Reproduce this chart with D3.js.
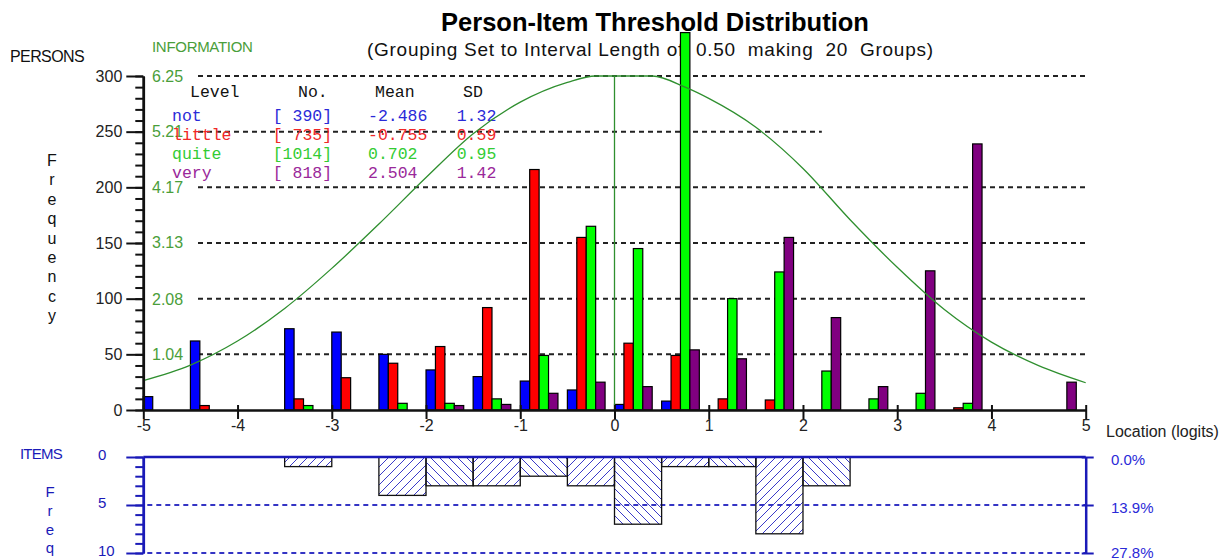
<!DOCTYPE html>
<html>
<head>
<meta charset="utf-8">
<script src="https://cdn.jsdelivr.net/npm/d3@7"></script>
<style>
  body { margin: 0; background: #fff; }
  svg { display: block; font-family: "Liberation Sans", Arial, sans-serif; }
</style>
</head>
<body>
<script>
// ---- Person distribution: 20 groups of 0.5 logits, one bar per response level ----
const groupStarts = [-5, -4.5, -4, -3.5, -3, -2.5, -2, -1.5, -1, -0.5, 0, 0.5, 1, 1.5, 2, 2.5, 3, 3.5, 4, 4.5];
const notCounts    = [12, 62, 0, 73, 70, 50, 36, 30, 26, 18, 5, 8, 0, 0, 0, 0, 0, 0, 0, 0];
const littleCounts = [0, 4, 0, 10, 29, 42, 57, 92, 216, 155, 60, 49, 10, 9, 0, 0, 0, 2, 0, 0];
const quiteCounts  = [0, 0, 0, 4, 0, 6, 6, 10, 49, 165, 145, 339, 100, 124, 35, 10, 15, 6, 0, 0];
const veryCounts   = [0, 0, 0, 0, 0, 0, 4, 5, 15, 25, 21, 54, 46, 155, 83, 21, 125, 239, 0, 25];

// ---- Legend table ----
const levels      = ["not", "little", "quite", "very"];
const levelCounts = [390, 735, 1014, 818];
const levelMeans  = [-2.486, -0.755, 0.702, 2.504];
const levelSDs    = [1.32, 0.59, 0.95, 1.42];
const legendHeader = ["Level", "No.", "Mean", "SD"];

// ---- Test information function ----
const infoLocations = [-5, -4.5, -4, -3.5, -3, -2.5, -2, -1.5, -1, -0.5, -0.2, 0.4, 0.75, 1, 1.5, 2, 2.5, 3, 3.5, 4, 4.5, 5];
const infoValues    = [0.55, 0.84, 1.29, 1.90, 2.65, 3.48, 4.35, 5.17, 5.76, 6.13, 6.25, 6.25, 6.04, 5.83, 5.29, 4.52, 3.56, 2.67, 1.88, 1.27, 0.83, 0.51];
const infoPeakLocation = 0;
const infoTickLabels = [1.04, 2.08, 3.13, 4.17, 5.21, 6.25];

// ---- Axis ticks ----
const logitTicks = [-5, -4, -3, -2, -1, 0, 1, 2, 3, 4, 5];
const freqMajorTicks = [0, 50, 100, 150, 200, 250, 300];
const freqMinorTicks = d3.range(0, 301, 10);

// ---- Item threshold distribution ----
const itemBinStarts = [-3.5, -2.5, -2, -1.5, -1, -0.5, 0, 0.5, 1, 1.5, 2];
const itemCounts    = [1, 4, 3, 3, 2, 3, 7, 1, 1, 8, 3];
const itemMajorTicks = [0, 5, 10];
const itemMinorTicks = d3.range(0, 11, 1);

// ---- Styling ----
const levelFill = ["#0000ff", "#ff0000", "#00ff00", "#800080"];
const levelText = ["#2a2ad8", "#f02828", "#33cc33", "#9a289a"];
const infoColor = "#2f8f2f";
const infoLabelColor = "#4a9e3a";
const itemBlue = "#1a1ab8";

const W = 1231, H = 560;
const svg = d3.select("body").append("svg").attr("width", W).attr("height", H);

const x = d3.scaleLinear().domain([-5, 5]).range([143.3, 1085.7]);
const y = d3.scaleLinear().domain([0, 300]).range([410, 76]);
const yInfo = d3.scaleLinear().domain([0, 6.25]).range([410, 76]);
const yItem = d3.scaleLinear().domain([0, 10]).range([457, 553]);

// ---- Titles ----
svg.append("text").attr("x", 655).attr("y", 31).attr("text-anchor", "middle")
  .style("font-size", "25.5px").style("font-weight", "bold").attr("fill", "#000")
  .text("Person-Item Threshold Distribution");
svg.append("text").attr("x", 367).attr("y", 56)
  .style("font-size", "19px").style("white-space", "pre").attr("fill", "#111")
  .attr("textLength", 566).attr("lengthAdjust", "spacing")
  .text("(Grouping Set to Interval Length of  0.50  making  20  Groups)");

svg.append("text").attr("x", 10).attr("y", 62).style("font-size", "16px")
  .style("letter-spacing", "-0.6px").attr("fill", "#111").text("PERSONS");
svg.append("text").attr("x", 152).attr("y", 52).style("font-size", "15px")
  .style("letter-spacing", "-0.3px").attr("fill", infoLabelColor).text("INFORMATION");

"Frequency".split("").forEach((ch, i) => {
  svg.append("text").attr("x", 52).attr("y", 166 + i * 19.4).attr("text-anchor", "middle")
    .style("font-size", "16px").attr("fill", "#111").text(ch);
});

// ---- Dashed grid (frequency) ----
const grid = svg.append("g");
freqMajorTicks.filter(d => d > 0).forEach(d => {
  grid.append("line")
    .attr("x1", 198).attr("x2", d === 250 ? x(2.2) : x(5))
    .attr("y1", y(d)).attr("y2", y(d))
    .attr("stroke", "#222").attr("stroke-width", 2).attr("stroke-dasharray", "5,4");
});

// Information scale labels
svg.append("g").selectAll("text").data(infoTickLabels).join("text")
  .attr("x", 152).attr("y", d => yInfo(d)).attr("dy", "0.36em")
  .style("font-size", "16px").attr("fill", infoLabelColor)
  .text(d => d.toFixed(2));

// ---- Legend table ----
const mono = "\"Liberation Mono\", \"Courier New\", monospace";
const legend = svg.append("g").style("font-family", mono).style("font-size", "16.5px").style("white-space", "pre");
const headerX = [190, 298, 375, 463];
legendHeader.forEach((h, i) => {
  legend.append("text").attr("x", headerX[i]).attr("y", 97).attr("fill", "#111").text(h);
});
levels.forEach((lv, i) => {
  const yy = 120.5 + i * 19.2;
  const row = legend.append("g").attr("fill", levelText[i]);
  row.append("text").attr("x", 172).attr("y", yy).text(lv);
  row.append("text").attr("x", 272.7).attr("y", yy).text("[" + String(levelCounts[i]).padStart(4, " ") + "]");
  row.append("text").attr("x", 368).attr("y", yy).text(levelMeans[i].toFixed(3).padStart(6, " "));
  row.append("text").attr("x", 456.7).attr("y", yy).text(levelSDs[i].toFixed(2));
});

// ---- Bars ----
const allSeries = [notCounts, littleCounts, quiteCounts, veryCounts];
const barW = 0.1;
const bars = svg.append("g");
allSeries.forEach((vals, si) => {
  const data = groupStarts.map((g, j) => ({ g, v: vals[j] })).filter(d => d.v > 0);
  bars.selectAll(null).data(data).join("rect")
    .attr("x", d => x(d.g + si * barW))
    .attr("width", x(barW) - x(0))
    .attr("y", d => y(d.v))
    .attr("height", d => y(0) - y(d.v))
    .attr("fill", levelFill[si])
    .attr("stroke", "#000").attr("stroke-width", 1.2);
});

// ---- Information curve ----
const infoLine = d3.line()
  .x((d, i) => x(infoLocations[i]))
  .y(d => yInfo(d))
  .curve(d3.curveMonotoneX);
svg.append("path").datum(infoValues).attr("d", infoLine)
  .attr("fill", "none").attr("stroke", infoColor).attr("stroke-width", 1.3);
svg.append("line")
  .attr("x1", x(infoPeakLocation)).attr("x2", x(infoPeakLocation))
  .attr("y1", yInfo(d3.max(infoValues))).attr("y2", y(0))
  .attr("stroke", infoColor).attr("stroke-width", 1.3);

// ---- Frequency axis ----
const yAxisMinor = d3.axisLeft(y).tickValues(freqMinorTicks).tickSize(8).tickSizeOuter(0).tickFormat("");
const yAxisMajor = d3.axisLeft(y).tickValues(freqMajorTicks).tickSize(17).tickSizeOuter(0).tickPadding(4);
const ga1 = svg.append("g").attr("transform", `translate(${x(-5)},0)`).call(yAxisMinor);
const ga2 = svg.append("g").attr("transform", `translate(${x(-5)},0)`).call(yAxisMajor);
[ga1, ga2].forEach(g => {
  g.selectAll("line").attr("stroke", "#111").attr("stroke-width", 2);
  g.select(".domain").attr("stroke", "#111").attr("stroke-width", 2.5);
});
ga2.selectAll("text").style("font-size", "16px").style("font-family", "\"Liberation Sans\", Arial, sans-serif")
  .attr("fill", "#222").attr("x", -21);

// ---- Location axis ----
const xAxis = d3.axisBottom(x).tickValues(logitTicks).tickSize(9).tickSizeOuter(0)
  .tickFormat(d => String(d)).tickPadding(1);
const gx = svg.append("g").attr("transform", `translate(0,${y(0)})`).call(xAxis);
gx.selectAll("line").attr("stroke", "#111").attr("stroke-width", 2).attr("y1", -5);
gx.select(".domain").attr("stroke", "#111").attr("stroke-width", 2.5);
gx.selectAll("text").style("font-size", "16px").style("font-family", "\"Liberation Sans\", Arial, sans-serif").attr("fill", "#222");
svg.append("text").attr("x", 1106).attr("y", 437).style("font-size", "16px").attr("fill", "#222")
  .text("Location (logits)");

// ---- Item panel ----
const defs = svg.append("defs");
function hatch(id, forward) {
  const p = defs.append("pattern").attr("id", id).attr("patternUnits", "userSpaceOnUse")
    .attr("width", 9).attr("height", 9);
  const d = forward ? "M-2,2 L2,-2 M0,9 L9,0 M7,11 L11,7" : "M-2,7 L2,11 M0,0 L9,9 M7,-2 L11,2";
  p.append("path").attr("d", d).attr("stroke", "#3a3ac8").attr("stroke-width", 1);
}
hatch("hatchFwd", true);
hatch("hatchBack", false);

const itemGrid = svg.append("g");
[5, 10].forEach(d => {
  itemGrid.append("line").attr("x1", x(-5) + 4).attr("x2", x(5))
    .attr("y1", yItem(d)).attr("y2", yItem(d))
    .attr("stroke", "#3434c4").attr("stroke-width", 1.8).attr("stroke-dasharray", "5,4");
});

const itemData = itemBinStarts.map((s, i) => ({ s, n: itemCounts[i] }));
svg.append("g").selectAll("rect").data(itemData).join("rect")
  .attr("x", d => x(d.s)).attr("width", x(0.5) - x(0))
  .attr("y", yItem(0)).attr("height", d => yItem(d.n) - yItem(0))
  .attr("fill", d => (Math.round((d.s + 5) / 0.5) % 2 === 1) ? "url(#hatchFwd)" : "url(#hatchBack)")
  .attr("stroke", "#111").attr("stroke-width", 1.3);

// top line of the item panel
svg.append("line").attr("x1", x(-5)).attr("x2", x(5)).attr("y1", yItem(0)).attr("y2", yItem(0))
  .attr("stroke", itemBlue).attr("stroke-width", 2.5);

const iyMinor = d3.axisLeft(yItem).tickValues(itemMinorTicks).tickSize(8).tickSizeOuter(0).tickFormat("");
const iyMajor = d3.axisLeft(yItem).tickValues(itemMajorTicks).tickSize(17).tickSizeOuter(0).tickFormat("");
[iyMinor, iyMajor].forEach(ax => {
  const g = svg.append("g").attr("transform", `translate(${x(-5)},0)`).call(ax);
  g.selectAll("line").attr("stroke", itemBlue).attr("stroke-width", 2);
  g.select(".domain").attr("stroke", itemBlue).attr("stroke-width", 2.5);
});
svg.append("g").selectAll("text").data(itemMajorTicks).join("text")
  .attr("x", 98).attr("y", d => yItem(d) - 2).attr("dy", "0.36em")
  .style("font-size", "15px").attr("fill", itemBlue).text(d => d);

const totalItems = d3.sum(itemCounts);
const iyRight = d3.axisRight(yItem).tickValues(itemMajorTicks).tickSize(8).tickSizeOuter(0).tickFormat("");
const gr = svg.append("g").attr("transform", `translate(${x(5)},0)`).call(iyRight);
gr.selectAll("line").attr("stroke", itemBlue).attr("stroke-width", 2).attr("x1", -4);
gr.select(".domain").attr("stroke", itemBlue).attr("stroke-width", 2.5);
svg.append("g").selectAll("text").data(itemMajorTicks).join("text")
  .attr("x", 1111).attr("y", d => yItem(d) + 3 - (d === 10 ? 3 : 0)).attr("dy", "0.36em")
  .style("font-size", "15px").attr("fill", "#2a2ad8")
  .text(d => (d / totalItems * 100).toFixed(1) + "%");

svg.append("text").attr("x", 20).attr("y", 459).style("font-size", "15px")
  .style("letter-spacing", "-0.8px").attr("fill", itemBlue).text("ITEMS");
"Freq".split("").forEach((ch, i) => {
  svg.append("text").attr("x", 50).attr("y", 497 + i * 18.8).attr("text-anchor", "middle")
    .style("font-size", "15px").attr("fill", itemBlue).text(ch);
});
</script>
</body>
</html>
